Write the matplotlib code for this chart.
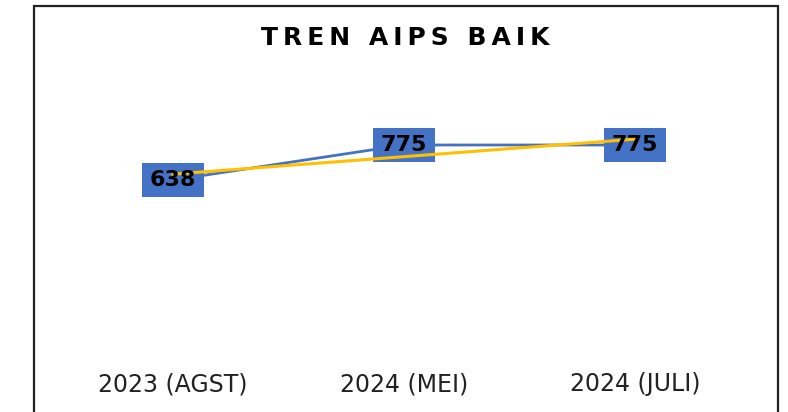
import numpy as np
import matplotlib
matplotlib.use("Agg")
import matplotlib.pyplot as plt
import matplotlib.patches as patches
import matplotlib.patheffects as pe

periods = ["2023 (AGST)", "2024 (MEI)", "2024 (JULI)"]
aips_baik = [638, 775, 775]
title = "TREN AIPS BAIK"

blue = "#4472C4"
yellow = "#FFC000"

fig = plt.figure(figsize=(7.88, 4.12), dpi=100)
fig.patch.set_facecolor("white")

# outer chart frame
frame = patches.Rectangle((34/788, -0.05), (778-34)/788, 1.05 - 6/412,
                          transform=fig.transFigure, fill=False,
                          edgecolor="#222222", lw=1.6, zorder=0)
fig.patches.append(frame)

ax = fig.add_axes([57.5/788, 69/412, 693/788, 255.5/412])
x = np.arange(len(periods))

# data line
ax.plot(x, aips_baik, color=blue, lw=2.0, zorder=2,
        path_effects=[pe.Stroke(linewidth=3.6, foreground="white"), pe.Normal()])

# linear trendline
k, b = np.polyfit(x, aips_baik, 1)
ax.plot(x, k*x + b, color=yellow, lw=2.2, zorder=4)

# data labels in blue boxes
for xi, v in zip(x, aips_baik):
    ax.text(xi, v, str(v), ha="center", va="center", fontsize=16,
            fontweight="bold", color=blue, zorder=3,
            bbox=dict(boxstyle="square,pad=0.33", fc=blue, ec="none"))
    ax.text(xi, v, str(v), ha="center", va="center", fontsize=16,
            fontweight="bold", color="black", zorder=5)

ax.set_xlim(-0.5, 2.5)
ax.set_ylim(0, 1000)
ax.set_xticks(x)
ax.set_xticklabels(periods, fontsize=17, color="#222222")
ax.tick_params(axis="x", length=0, pad=21)
ax.set_yticks([])
for s in ax.spines.values():
    s.set_visible(False)
ax.patch.set_alpha(0)

# letter-spaced title
spaced = "\u2009".join(title).replace("\u2009 \u2009", "\u2009 \u2009")
fig.text(405/788, 1 - 38/412, spaced, ha="center", va="center",
         fontsize=18, fontweight="bold", color="black")

plt.savefig("out.png", dpi=100)
